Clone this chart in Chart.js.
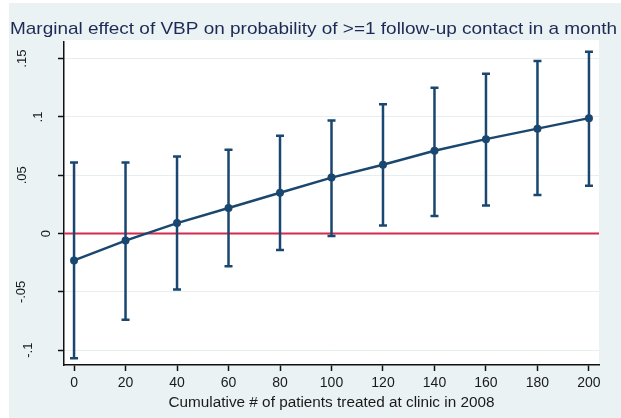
<!DOCTYPE html>
<html>
<head>
<meta charset="utf-8">
<script src="https://cdn.jsdelivr.net/npm/chart.js@4.4.0/dist/chart.umd.min.js"></script>
<style>
  html, body { margin: 0; padding: 0; background: #ffffff; }
  #wrap { width: 621px; height: 418px; }
</style>
</head>
<body>
<div id="wrap"><canvas id="me" width="621" height="418"></canvas></div>
<script>
// values
const patients = [0, 20, 40, 60, 80, 100, 120, 140, 160, 180, 200];
const effect   = [-0.023, -0.006, 0.009, 0.022, 0.035, 0.048, 0.059, 0.071, 0.081, 0.090, 0.099];
const ciUpper  = [0.061, 0.061, 0.066, 0.072, 0.084, 0.097, 0.111, 0.125, 0.137, 0.148, 0.156];
const ciLower  = [-0.107, -0.074, -0.048, -0.028, -0.014, -0.002, 0.007, 0.015, 0.024, 0.033, 0.041];

const xTicks = [0, 20, 40, 60, 80, 100, 120, 140, 160, 180, 200];
const yTicks = [-0.1, -0.05, 0, 0.05, 0.1, 0.15];
const yTickLabels = ['-.1', '-.05', '0', '.05', '.1', '.15'];

const titleText = 'Marginal effect of VBP on probability of >=1 follow-up contact in a month';
const xTitleText = 'Cumulative # of patients treated at clinic in 2008';

const navy = '#1a476f';
const font = '"Liberation Sans", Arial, sans-serif';

// text squeezed/stretched to a given width, like the stata export
function fitText(ctx, txt, x, y, w, align) {
    const m = ctx.measureText(txt).width;
    const s = w / m;
    ctx.save();
    ctx.translate(x, y);
    ctx.scale(s, 1);
    ctx.textAlign = align;
    ctx.fillText(txt, 0, 0);
    ctx.restore();
}

const stataLook = {
    id: 'stataLook',
    beforeDraw(chart) {
        const ctx = chart.ctx, a = chart.chartArea;
        ctx.save();
        ctx.fillStyle = '#ffffff';
        ctx.fillRect(0, 0, chart.width, chart.height);
        ctx.fillStyle = '#eaf2f3';
        ctx.fillRect(9, 3, chart.width - 9, chart.height - 3);
        ctx.fillStyle = '#ffffff';
        ctx.fillRect(a.left, a.top - 2, a.right - a.left, a.bottom - a.top + 2);
        ctx.restore();
    },
    beforeDatasetsDraw(chart) {
        const ctx = chart.ctx, a = chart.chartArea;
        const xs = chart.scales.x, ys = chart.scales.y;
        ctx.save();
        // zero line
        const y0 = ys.getPixelForValue(0);
        ctx.strokeStyle = '#d42a4f';
        ctx.lineWidth = 2;
        ctx.beginPath();
        ctx.moveTo(a.left, y0);
        ctx.lineTo(a.right, y0);
        ctx.stroke();
        // confidence intervals
        ctx.strokeStyle = navy;
        ctx.lineWidth = 2.5;
        patients.forEach((p, i) => {
            const px = xs.getPixelForValue(p);
            const hi = ys.getPixelForValue(ciUpper[i]);
            const lo = ys.getPixelForValue(ciLower[i]);
            ctx.beginPath();
            ctx.moveTo(px, hi); ctx.lineTo(px, lo);
            ctx.moveTo(px - 4, hi); ctx.lineTo(px + 4, hi);
            ctx.moveTo(px - 4, lo); ctx.lineTo(px + 4, lo);
            ctx.stroke();
        });
        ctx.restore();
    },
    afterDraw(chart) {
        const ctx = chart.ctx, a = chart.chartArea;
        const ys = chart.scales.y;
        ctx.save();
        // title
        ctx.fillStyle = '#1d2a55';
        ctx.font = '17px ' + font;
        ctx.textBaseline = 'alphabetic';
        fitText(ctx, titleText, 10, 34, 607, 'left');
        // y labels, vertical
        ctx.fillStyle = '#1a1a1a';
        ctx.font = '13px ' + font;
        ctx.textAlign = 'center';
        ctx.textBaseline = 'middle';
        yTicks.forEach((v, i) => {
            const lab = yTickLabels[i];
            const w = ctx.measureText(lab).width;
            const cx = Math.max(21, 62 - 2.2 * w);
            ctx.save();
            ctx.translate(cx, ys.getPixelForValue(v));
            ctx.rotate(-Math.PI / 2);
            ctx.fillText(lab, 0, 0);
            ctx.restore();
        });
        // x axis title
        ctx.fillStyle = '#1a1a1a';
        ctx.font = '14px ' + font;
        ctx.textBaseline = 'alphabetic';
        fitText(ctx, xTitleText, (a.left + a.right) / 2, 407, 326, 'center');
        ctx.restore();
    }
};

new Chart(document.getElementById('me'), {
    type: 'line',
    data: {
        datasets: [{
            data: patients.map((p, i) => ({ x: p, y: effect[i] })),
            borderColor: navy,
            borderWidth: 2.5,
            backgroundColor: navy,
            pointRadius: 4,
            pointBorderWidth: 0,
            pointBackgroundColor: navy,
            tension: 0,
            fill: false
        }]
    },
    options: {
        responsive: false,
        animation: false,
        layout: { padding: { top: 42, right: 22, left: 0, bottom: 0 } },
        plugins: {
            legend: { display: false },
            tooltip: { enabled: false },
            title: { display: false }
        },
        scales: {
            x: {
                type: 'linear',
                min: -3.9,
                max: 203.9,
                afterBuildTicks: s => { s.ticks = xTicks.map(v => ({ value: v })); },
                afterFit: s => { s.height = 53; },
                grid: { drawOnChartArea: false, tickLength: 6, tickColor: '#111', tickWidth: 1.5 },
                border: { color: '#111', width: 1.5 },
                ticks: {
                    color: '#1a1a1a',
                    font: { size: 14, family: font },
                    padding: 4,
                    maxRotation: 0,
                    autoSkip: false
                }
            },
            y: {
                min: -0.1127,
                max: 0.1643,
                afterBuildTicks: s => { s.ticks = yTicks.map(v => ({ value: v })); },
                afterFit: s => { s.width = 64; },
                grid: { color: '#e6eef0', lineWidth: 1, tickLength: 6, tickColor: '#111', tickWidth: 1.5 },
                border: { color: '#111', width: 1.5 },
                ticks: { display: false }
            }
        }
    },
    plugins: [stataLook]
});
</script>
</body>
</html>
